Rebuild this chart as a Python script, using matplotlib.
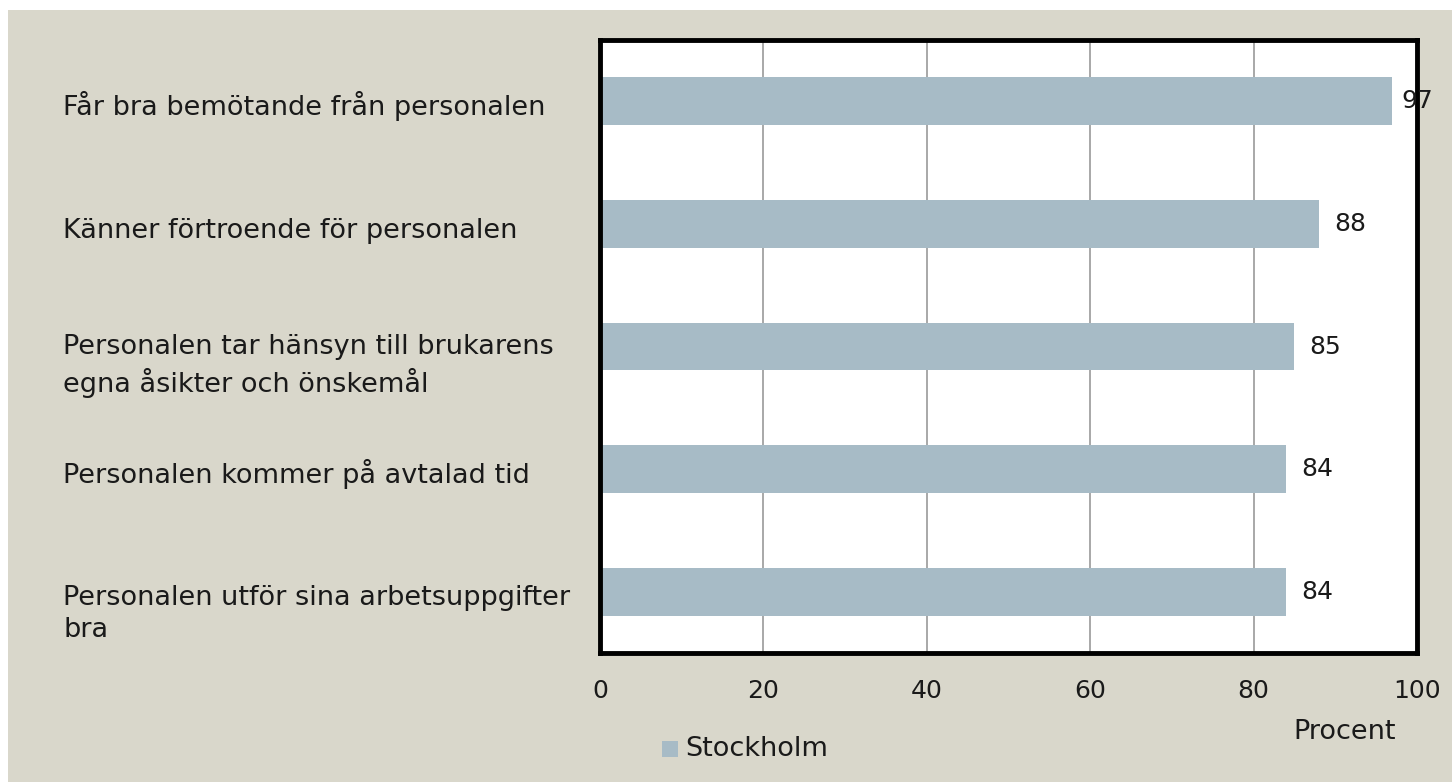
import matplotlib.pyplot as plt
from matplotlib.patches import Rectangle
from matplotlib.transforms import blended_transform_factory

categories = [
    'Får bra bemötande från personalen',
    'Känner förtroende för personalen',
    'Personalen tar hänsyn till brukarens\negna åsikter och önskemål',
    'Personalen kommer på avtalad tid',
    'Personalen utför sina arbetsuppgifter\nbra',
]
values = [97, 88, 85, 84, 84]
xticks = [0, 20, 40, 60, 80, 100]
series_name = 'Stockholm'
xlabel = 'Procent'

W, H = 1452, 782
bg = '#d9d7cb'
bar_color = '#a7bbc6'
txt = '#1a1a1a'
fs_text = 19.5
fs_num = 18

plt.rcParams['font.family'] = ['DejaVu Sans']

fig = plt.figure(figsize=(W / 100, H / 100), dpi=100)
fig.patch.set_facecolor('white')
fig.add_artist(Rectangle((8 / W, 0), 1 - 8 / W, 1 - 10 / H,
                         transform=fig.transFigure, facecolor=bg,
                         edgecolor='none', zorder=-10))

ax = fig.add_axes([600 / W, 1 - 653 / H, (1417 - 600) / W, (653 - 40) / H])
ax.set_facecolor('white')

ypos = list(range(len(categories)))
ax.barh(ypos, values, height=0.39, color=bar_color, zorder=2)
ax.set_ylim(len(categories) - 0.5, -0.5)
ax.set_xlim(0, 100)

ax.set_xticks(xticks)
ax.set_xticklabels([str(t) for t in xticks], fontsize=fs_num, color=txt)
ax.tick_params(axis='x', length=0, pad=19)
ax.set_yticks([])
ax.grid(axis='x', color='#999999', linewidth=1.2, zorder=1)

for s in ax.spines.values():
    s.set_linewidth(3.5)
    s.set_color('black')
    s.set_zorder(3)

for y, v in zip(ypos, values):
    off = 9 if v > 95 else 15
    ax.annotate(str(v), xy=(v, y), xytext=(off, 0), textcoords='offset pixels',
                ha='left', va='center', fontsize=fs_num, color=txt,
                annotation_clip=False, zorder=4)

# category labels, left aligned outside the axes
# (baseline of the last line is used for alignment)
trans = blended_transform_factory(fig.transFigure, ax.transData)
for y, c in zip(ypos, categories):
    dy = -45 if '\n' in c else -14
    ax.annotate(c, xy=(63 / W, y), xycoords=trans, xytext=(0, dy),
                textcoords='offset pixels', ha='left', va='baseline',
                fontsize=fs_text, color=txt, linespacing=1.3,
                annotation_clip=False)

fig.text(1345 / W, 1 - 732 / H, xlabel, ha='center', va='center',
         fontsize=fs_text, color=txt)

fig.add_artist(Rectangle((662 / W, 1 - 757 / H), 16 / W, 16 / H,
                         transform=fig.transFigure, facecolor=bar_color,
                         edgecolor='none'))
fig.text(685 / W, 1 - 749 / H, series_name, ha='left', va='center',
         fontsize=fs_text, color=txt)

plt.savefig('out.png', dpi=100, facecolor=fig.get_facecolor())
